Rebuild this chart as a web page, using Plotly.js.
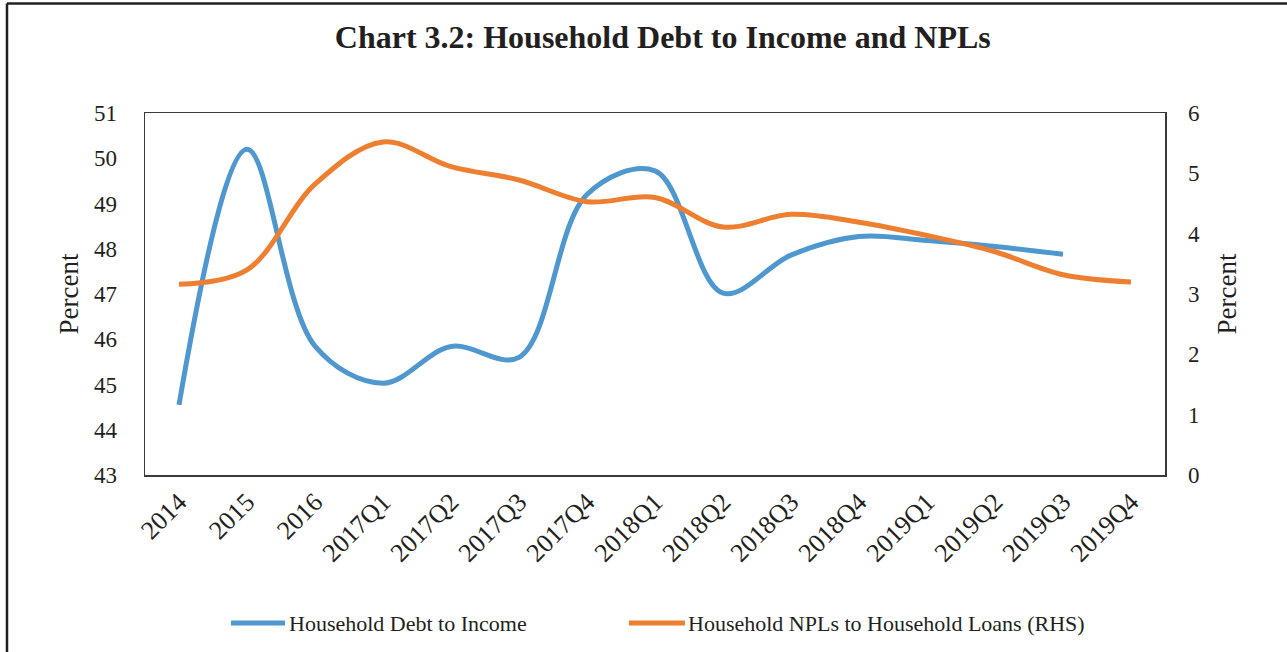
<!DOCTYPE html>
<html>
<head>
<meta charset="utf-8">
<script src="https://cdn.plot.ly/plotly-3.0.1.min.js"></script>
<style>
  html, body { margin: 0; padding: 0; background: #ffffff; }
  #chart { width: 1287px; height: 652px; }
</style>
</head>
<body>
<div id="chart"></div>
<script>
// Period labels along the x axis
const periods = ["2014", "2015", "2016", "2017Q1", "2017Q2", "2017Q3", "2017Q4",
  "2018Q1", "2018Q2", "2018Q3", "2018Q4", "2019Q1", "2019Q2", "2019Q3", "2019Q4"];

// Household debt to income, percent (left axis); no reading yet for 2019Q4
const debtToIncome = [44.55, 50.2, 45.85, 45.03, 45.84, 45.6, 49.2,
  49.72, 47.02, 47.86, 48.27, 48.18, 48.05, 47.88, null];

// Household NPLs to household loans, percent (right axis)
const nplRatio = [3.16, 3.4, 4.82, 5.52, 5.11, 4.89, 4.53,
  4.6, 4.11, 4.32, 4.19, 3.97, 3.7, 3.32, 3.2];

const leftTicks = [43, 44, 45, 46, 47, 48, 49, 50, 51];
const rightTicks = [0, 1, 2, 3, 4, 5, 6];

const seriesNames = ["Household Debt to Income", "Household NPLs to Household Loans (RHS)"];
const seriesColors = ["#4f97cf", "#ee7f30"];

const serif = "'Liberation Serif', 'Times New Roman', serif";
const ink = "#231f20";

const traces = [
  {
    x: periods, y: debtToIncome, type: "scatter", mode: "lines",
    name: seriesNames[0],
    line: { color: seriesColors[0], width: 5, shape: "spline", smoothing: 1 },
    connectgaps: false, yaxis: "y"
  },
  {
    x: periods, y: nplRatio, type: "scatter", mode: "lines",
    name: seriesNames[1],
    line: { color: seriesColors[1], width: 5, shape: "spline", smoothing: 1 },
    yaxis: "y2"
  }
];

// Legend drawn below the plot: a short line sample followed by the series name
const legendY = -0.409;
const legendItems = [
  { x0: 0.0843, x1: 0.1373, tx: 0.1392 },
  { x0: 0.4745, x1: 0.5294, tx: 0.5304 }
];
const legendShapes = legendItems.map((it, i) => ({
  type: "line", xref: "paper", yref: "paper",
  x0: it.x0, x1: it.x1, y0: legendY, y1: legendY,
  line: { color: seriesColors[i], width: 5 }
}));
const legendLabels = legendItems.map((it, i) => ({
  xref: "paper", yref: "paper", x: it.tx, y: legendY,
  xanchor: "left", yanchor: "middle", showarrow: false,
  text: seriesNames[i], font: { family: serif, size: 22, color: ink }
}));

const layout = {
  width: 1287, height: 652,
  paper_bgcolor: "#ffffff", plot_bgcolor: "#ffffff",
  margin: { l: 145, r: 122, t: 113, b: 177 },
  font: { family: serif, color: ink, size: 22 },
  title: {
    text: "<b>Chart 3.2: Household Debt to Income and NPLs</b>",
    font: { family: serif, size: 32, color: ink },
    x: 0.515, xanchor: "center", y: 0.943, yanchor: "middle"
  },
  showlegend: false,
  xaxis: {
    type: "category", categoryorder: "array", categoryarray: periods,
    range: [-0.5, 14.5], tickangle: -45,
    showgrid: false, zeroline: false, ticks: "",
    showline: true, linecolor: "#3a3a3a", linewidth: 1.5, mirror: true,
    tickfont: { family: serif, size: 26, color: ink }
  },
  yaxis: {
    range: [43, 51], tickvals: leftTicks, ticktext: leftTicks.map(String),
    showgrid: false, zeroline: false, ticks: "", ticklabelstandoff: 22,
    showline: true, linecolor: "#3a3a3a", linewidth: 1.5, mirror: true,
    tickfont: { family: serif, size: 23, color: ink },
    title: { text: "Percent", font: { family: serif, size: 27, color: ink }, standoff: 7 }
  },
  yaxis2: {
    range: [0, 6], tickvals: rightTicks, ticktext: rightTicks.map(String),
    overlaying: "y", side: "right",
    showgrid: false, zeroline: false, ticks: "", ticklabelstandoff: 22,
    showline: false,
    tickfont: { family: serif, size: 23, color: ink },
    title: { text: "Percent", font: { family: serif, size: 27, color: ink }, standoff: 18 }
  },
  annotations: legendLabels,
  shapes: [
    // outer frame: top and left edges
    { type: "line", xref: "paper", yref: "paper", x0: -0.1353, x1: 1.13, y0: 1.3025, y1: 1.3025,
      line: { color: "#231f20", width: 2.5 } },
    { type: "line", xref: "paper", yref: "paper", x0: -0.1353, x1: -0.1353, y0: 1.3025, y1: -0.52,
      line: { color: "#231f20", width: 2.5 } }
  ].concat(legendShapes)
};

Plotly.newPlot("chart", traces, layout, { displayModeBar: false, staticPlot: true });
</script>
</body>
</html>
